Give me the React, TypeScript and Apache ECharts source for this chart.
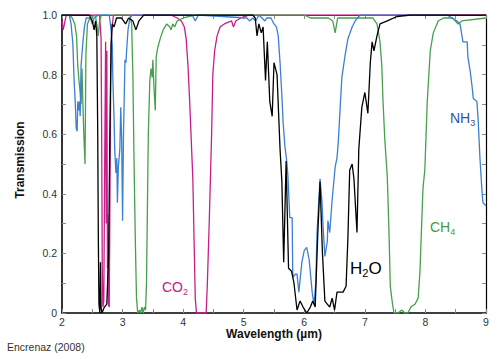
import React, { useEffect, useRef } from "react";
import * as echarts from "echarts";

// Wavelength ticks / transmission ticks
const xTicks = [2, 3, 4, 5, 6, 7, 8, 9];
const yTicks = [0, 0.2, 0.4, 0.6, 0.8, 1.0];

// [wavelength µm, transmission]
const h2o: [number, number][] = [
  [2.0, 1.0], [2.45, 1.0], [2.5, 0.98], [2.53, 0.95], [2.555, 0.98], [2.575, 0.93], [2.59, 0.6],
  [2.6, 0.25], [2.61, 0.03], [2.625, 0.0], [2.635, 0.17], [2.645, 0.02], [2.66, 0.0], [2.7, 0.02],
  [2.74, 0.03], [2.77, 0.2], [2.79, 0.6], [2.81, 0.9], [2.83, 0.97], [2.86, 0.96], [2.9, 0.99],
  [2.98, 0.99], [3.05, 0.97], [3.1, 0.99], [3.17, 0.98], [3.22, 0.95], [3.27, 0.98], [3.35, 1.0],
  [5.15, 1.0], [5.19, 0.99], [5.22, 0.93], [5.25, 0.97], [5.29, 0.94], [5.32, 0.96], [5.36, 0.78],
  [5.39, 0.91], [5.43, 0.71], [5.47, 0.66], [5.5, 0.84], [5.55, 0.8], [5.6, 0.55], [5.63, 0.44],
  [5.66, 0.17], [5.7, 0.51], [5.74, 0.15], [5.79, 0.14], [5.83, 0.1], [5.88, 0.01], [5.93, 0.04],
  [5.98, 0.02], [6.04, 0.0], [6.1, 0.02], [6.14, 0.04], [6.18, 0.02], [6.22, 0.25], [6.26, 0.44],
  [6.3, 0.2], [6.34, 0.04], [6.42, 0.02], [6.46, 0.05], [6.5, 0.01], [6.54, 0.07], [6.59, 0.07],
  [6.64, 0.07], [6.69, 0.09], [6.72, 0.25], [6.75, 0.48], [6.79, 0.5], [6.82, 0.45], [6.87, 0.27],
  [6.9, 0.55], [6.95, 0.69], [7.0, 0.74], [7.05, 0.67], [7.09, 0.84], [7.12, 0.91], [7.15, 0.88],
  [7.2, 0.93], [7.25, 0.97], [7.37, 0.98], [7.53, 0.995], [7.75, 1.0], [9.0, 1.0],
];

const co2: [number, number][] = [
  [2.0, 0.98], [2.02, 0.95], [2.04, 0.97], [2.07, 1.0], [2.62, 1.0], [2.645, 0.92], [2.655, 0.6],
  [2.665, 0.15], [2.675, 0.02], [2.69, 0.04], [2.705, 0.5], [2.72, 0.91], [2.73, 0.3], [2.74, 0.88],
  [2.75, 0.15], [2.755, 0.33], [2.765, 0.03], [2.78, 0.02], [2.79, 0.35], [2.805, 0.8], [2.82, 0.95],
  [2.85, 1.0], [3.8, 1.0], [3.9, 0.99], [3.97, 0.98], [4.02, 0.96], [4.05, 0.92], [4.08, 0.83],
  [4.11, 0.7], [4.13, 0.6], [4.16, 0.45], [4.18, 0.25], [4.2, 0.05], [4.22, 0.0], [4.38, 0.0],
  [4.4, 0.1], [4.43, 0.3], [4.45, 0.45], [4.47, 0.6], [4.49, 0.8], [4.52, 0.88], [4.56, 0.93],
  [4.61, 0.96], [4.68, 0.97], [4.8, 0.98], [4.83, 0.96], [4.87, 0.98], [4.95, 0.99], [5.1, 1.0],
  [9.0, 1.0],
];

const ch4: [number, number][] = [
  [2.0, 1.0], [2.12, 1.0], [2.17, 0.99], [2.21, 0.97], [2.24, 0.93], [2.26, 0.83], [2.28, 0.78],
  [2.3, 0.74], [2.315, 0.7], [2.33, 0.82], [2.345, 0.7], [2.36, 0.6], [2.38, 0.5], [2.395, 0.87],
  [2.42, 0.97], [2.46, 0.99], [2.55, 1.0], [2.58, 0.96], [2.6, 0.93], [2.62, 0.98], [2.65, 1.0],
  [3.12, 1.0], [3.15, 0.97], [3.17, 0.8], [3.19, 0.5], [3.21, 0.25], [3.23, 0.05], [3.25, 0.0],
  [3.28, 0.01], [3.3, 0.0], [3.32, 0.02], [3.34, 0.0], [3.36, 0.02], [3.38, 0.01], [3.395, 0.1],
  [3.41, 0.35], [3.425, 0.6], [3.45, 0.78], [3.47, 0.82], [3.49, 0.79], [3.5, 0.85], [3.52, 0.75],
  [3.54, 0.68], [3.555, 0.86], [3.58, 0.89], [3.62, 0.92], [3.67, 0.95], [3.73, 0.97], [3.78, 0.96],
  [3.8, 0.95], [3.83, 0.97], [3.86, 0.96], [3.9, 0.98], [4.0, 0.99], [4.2, 1.0], [6.0, 1.0],
  [6.1, 0.99], [6.4, 0.99], [6.47, 0.98], [6.51, 0.94], [6.55, 0.99], [7.0, 0.99], [7.13, 0.99],
  [7.2, 0.97], [7.25, 0.91], [7.28, 0.83], [7.3, 0.71], [7.33, 0.58], [7.37, 0.46], [7.4, 0.26],
  [7.42, 0.09], [7.45, 0.04], [7.48, 0.0], [7.55, 0.0], [7.61, 0.01], [7.66, 0.0], [7.71, 0.0],
  [7.76, 0.02], [7.83, 0.03], [7.88, 0.05], [7.91, 0.14], [7.94, 0.31], [7.96, 0.42], [7.99, 0.48],
  [8.03, 0.71], [8.08, 0.88], [8.13, 0.94], [8.21, 0.98], [8.3, 0.99], [8.45, 0.99], [8.54, 0.97],
  [8.6, 0.98], [9.0, 0.99],
];

const nh3: [number, number][] = [
  [2.0, 1.0], [2.12, 1.0], [2.15, 0.97], [2.18, 0.9], [2.2, 0.78], [2.22, 0.7], [2.235, 0.62],
  [2.25, 0.61], [2.26, 0.71], [2.275, 0.68], [2.29, 0.71], [2.3, 0.66], [2.315, 0.83], [2.33, 0.87],
  [2.35, 0.92], [2.37, 0.96], [2.4, 0.99], [2.47, 0.99], [2.5, 0.97], [2.53, 0.99], [2.6, 1.0],
  [2.78, 1.0], [2.81, 0.95], [2.83, 0.9], [2.84, 0.78], [2.86, 0.65], [2.87, 0.55], [2.89, 0.47],
  [2.905, 0.52], [2.915, 0.37], [2.93, 0.49], [2.955, 0.55], [2.97, 0.69], [2.985, 0.58], [3.0, 0.31],
  [3.015, 0.6], [3.04, 0.85], [3.055, 0.84], [3.07, 0.89], [3.09, 0.95], [3.12, 0.99], [3.16, 1.0],
  [4.15, 1.0], [4.2, 0.98], [4.25, 1.0], [5.05, 0.99], [5.1, 0.98], [5.15, 0.99], [5.2, 0.98],
  [5.25, 1.0], [5.35, 0.98], [5.38, 0.99], [5.45, 0.99], [5.5, 0.97], [5.54, 0.96], [5.57, 0.93],
  [5.6, 0.84], [5.63, 0.73], [5.65, 0.64], [5.68, 0.56], [5.71, 0.51], [5.73, 0.46], [5.76, 0.32],
  [5.8, 0.32], [5.81, 0.12], [5.85, 0.13], [5.88, 0.13], [5.91, 0.07], [5.96, 0.17], [6.0, 0.21],
  [6.04, 0.22], [6.08, 0.18], [6.13, 0.07], [6.16, 0.03], [6.19, 0.1], [6.21, 0.27], [6.26, 0.45],
  [6.29, 0.38], [6.31, 0.29], [6.34, 0.19], [6.38, 0.24], [6.39, 0.31], [6.42, 0.27], [6.46, 0.38],
  [6.51, 0.49], [6.54, 0.52], [6.56, 0.57], [6.59, 0.68], [6.62, 0.79], [6.67, 0.86], [6.72, 0.92],
  [6.79, 0.96], [6.84, 0.98], [6.92, 1.0], [8.24, 1.0], [8.36, 1.0], [8.44, 0.99], [8.52, 0.98],
  [8.57, 0.97], [8.62, 0.91], [8.69, 0.91], [8.7, 0.86], [8.74, 0.81], [8.77, 0.76], [8.79, 0.72],
  [8.85, 0.71], [8.87, 0.65], [8.9, 0.52], [8.93, 0.42], [8.95, 0.37], [9.0, 0.36],
];

const COLORS = {
  h2o: "#000000",
  co2: "#c81e8c",
  ch4: "#46a04c",
  nh3: "#3b7fd4",
};

const FONT = "Liberation Sans, Arial, sans-serif";

export default function App() {
  const ref = useRef<HTMLDivElement>(null);

  useEffect(() => {
    if (!ref.current) return;
    const chart = echarts.init(ref.current, undefined, { renderer: "svg" });

    const tickStyle = { color: "#8a8a8a", width: 1 };
    const mainAxisX = {
      type: "value" as const,
      min: xTicks[0],
      max: xTicks[xTicks.length - 1],
      interval: 1,
      axisLine: { show: true, onZero: false, lineStyle: { color: "#000", width: 1.6 } },
      axisTick: { show: true, inside: true, length: 4, lineStyle: tickStyle },
      minorTick: { show: true, splitNumber: 2, length: 4, lineStyle: tickStyle },
      splitLine: { show: false },
      axisLabel: { color: "#333", fontSize: 10.5, lineHeight: 11, fontFamily: FONT, margin: 3 },
    };
    const mainAxisY = {
      type: "value" as const,
      min: yTicks[0],
      max: yTicks[yTicks.length - 1],
      interval: 0.2,
      axisLine: { show: true, onZero: false, lineStyle: { color: "#000", width: 1.6 } },
      axisTick: { show: true, inside: true, length: 4, lineStyle: tickStyle },
      minorTick: { show: true, splitNumber: 2, length: 4, lineStyle: tickStyle },
      splitLine: { show: false },
      axisLabel: {
        color: "#333",
        fontSize: 10.5,
        fontFamily: FONT,
        margin: 5,
        formatter: (v: number) => (v === 0 ? "0" : v.toFixed(1)),
      },
    };

    const mkSeries = (name: string, data: [number, number][], color: string) => ({
      name,
      type: "line" as const,
      data,
      showSymbol: false,
      symbol: "none",
      lineStyle: { color, width: 1.3 },
      itemStyle: { color },
      clip: true,
    });

    const txt = (
      text: string,
      x: number,
      y: number,
      size: number,
      color: string,
      extra: any = {}
    ) => ({
      type: "text",
      x,
      y,
      silent: true,
      style: {
        text,
        fill: color,
        fontSize: size,
        fontFamily: FONT,
        align: "left",
        verticalAlign: "middle",
        ...extra,
      },
    });

    chart.setOption({
      animation: false,
      backgroundColor: "#ffffff",
      grid: { left: 62, right: 14, top: 15, bottom: 46, containLabel: false },
      xAxis: [
        mainAxisX,
        {
          ...mainAxisX,
          position: "top",
          axisLine: { show: true, onZero: false, lineStyle: { color: "#000", width: 1.2 } },
          axisLabel: { show: false },
        },
      ],
      yAxis: [
        mainAxisY,
        {
          ...mainAxisY,
          position: "right",
          axisLine: { show: true, onZero: false, lineStyle: { color: "#000", width: 1.2 } },
          axisLabel: { show: false },
        },
      ],
      series: [
        mkSeries("CO2", co2, COLORS.co2),
        mkSeries("CH4", ch4, COLORS.ch4),
        mkSeries("NH3", nh3, COLORS.nh3),
        mkSeries("H2O", h2o, COLORS.h2o),
      ],
      graphic: [
        { ...txt("Transmission", 20, 160, 12, "#111", { fontWeight: "bold", align: "center" }), rotation: Math.PI / 2 },
        txt("Wavelength (µm)", 274, 334, 12, "#111", { fontWeight: "bold", align: "center", lineHeight: 12 }),
        txt("Encrenaz (2008)", 7, 347, 10.5, "#333"),
        // NH3
        txt("NH", 450, 118, 14, "#2f52ab"),
        txt("3", 470.2, 123, 9, "#2f52ab"),
        // CH4
        txt("CH", 430, 227, 14, "#3f9a40"),
        txt("4", 450.2, 232, 9, "#3f9a40"),
        // H2O
        txt("H", 350, 268, 17, "#000"),
        txt("2", 362.3, 273, 11, "#000"),
        txt("O", 368.4, 268, 17, "#000"),
        // CO2
        txt("CO", 162, 287, 14, "#c2188a"),
        txt("2", 183, 292, 9, "#c2188a"),
      ],
    });

    return () => chart.dispose();
  }, []);

  return (
    <div
      ref={ref}
      style={{ position: "fixed", left: 0, top: 0, width: 500, height: 359, background: "#fff" }}
    />
  );
}
